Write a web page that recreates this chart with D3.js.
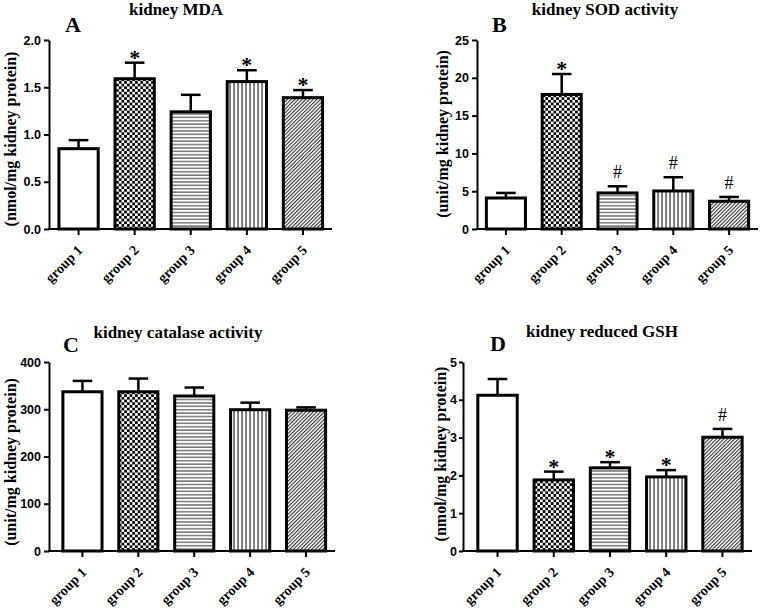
<!DOCTYPE html>
<html>
<head>
<meta charset="utf-8">
<script src="https://cdn.jsdelivr.net/npm/d3@7"></script>
<style>
  html, body { margin: 0; padding: 0; background: #fff; }
  svg { display: block; }
</style>
</head>
<body>
<svg id="chart" width="762" height="611"></svg>
<script>
// ---------------- data ----------------
const groups = ["group 1", "group 2", "group 3", "group 4", "group 5"];

const mdaMean  = [0.85, 1.59, 1.24, 1.56, 1.39];
const mdaErr   = [0.09, 0.17, 0.18, 0.12, 0.08];
const mdaMarks = ["", "*", "", "*", "*"];
const mdaTicks = [0, 0.5, 1.0, 1.5, 2.0];

const sodMean  = [4.1, 17.8, 4.77, 5.03, 3.67];
const sodErr   = [0.67, 2.7, 0.88, 1.82, 0.57];
const sodMarks = ["", "*", "#", "#", "#"];
const sodTicks = [0, 5, 10, 15, 20, 25];

const catMean  = [337, 337, 328, 299, 298];
const catErr   = [23, 28, 18, 15, 6];
const catMarks = ["", "", "", "", ""];
const catTicks = [0, 100, 200, 300, 400];

const gshMean  = [4.12, 1.88, 2.20, 1.96, 3.01];
const gshErr   = [0.43, 0.22, 0.15, 0.18, 0.22];
const gshMarks = ["", "*", "*", "*", "#"];
const gshTicks = [0, 1, 2, 3, 4, 5];

// ---------------- drawing ----------------
const svg = d3.select("#chart");
const defs = svg.append("defs");

// patterns
const pChk = defs.append("pattern").attr("id", "p-check").attr("patternUnits", "userSpaceOnUse")
  .attr("width", 5.4).attr("height", 5.4);
pChk.append("rect").attr("width", 5.4).attr("height", 5.4).attr("fill", "#fff");
pChk.append("rect").attr("width", 2.7).attr("height", 2.7).attr("fill", "#000");
pChk.append("rect").attr("x", 2.7).attr("y", 2.7).attr("width", 2.7).attr("height", 2.7).attr("fill", "#000");

const pH = defs.append("pattern").attr("id", "p-hor").attr("patternUnits", "userSpaceOnUse")
  .attr("width", 6).attr("height", 3.4);
pH.append("rect").attr("width", 6).attr("height", 3.4).attr("fill", "#fff");
pH.append("rect").attr("y", 1.2).attr("width", 6).attr("height", 1.1).attr("fill", "#444");

const pV = defs.append("pattern").attr("id", "p-ver").attr("patternUnits", "userSpaceOnUse")
  .attr("width", 4).attr("height", 6);
pV.append("rect").attr("width", 4).attr("height", 6).attr("fill", "#fff");
pV.append("rect").attr("x", 1.3).attr("width", 1.5).attr("height", 6).attr("fill", "#555");

const pD = defs.append("pattern").attr("id", "p-diag").attr("patternUnits", "userSpaceOnUse")
  .attr("width", 2.6).attr("height", 2.6).attr("patternTransform", "rotate(45)");
pD.append("rect").attr("width", 2.6).attr("height", 2.6).attr("fill", "#fff");
pD.append("rect").attr("x", 0).attr("width", 1.1).attr("height", 2.6).attr("fill", "#333");

const fills = ["#fff", "url(#p-check)", "url(#p-hor)", "url(#p-ver)", "url(#p-diag)"];

const serif = "'Liberation Serif', 'Times New Roman', serif";
const sans = "'Liberation Sans', Arial, sans-serif";

function panel(o) {
  const g = svg.append("g");
  const y = d3.scaleLinear().domain([0, o.max]).range([o.yBot, o.yTop]);
  const x = d3.scaleBand().domain(groups).range([o.bx0, o.bx1]).paddingInner(0.3).paddingOuter(0.15);

  // title & letter
  g.append("text").attr("x", o.titleX).attr("y", o.titleY).attr("text-anchor", "middle")
    .attr("font-family", serif).attr("font-weight", "bold").attr("font-size", 17).text(o.title);
  g.append("text").attr("x", o.letterX).attr("y", o.letterY)
    .attr("font-family", serif).attr("font-weight", "bold").attr("font-size", 22).text(o.letter);

  // y label
  g.append("text")
    .attr("transform", `translate(${o.ylabX},${o.ylabY}) rotate(-90)`)
    .attr("text-anchor", "middle").attr("dominant-baseline", "central")
    .attr("font-family", serif).attr("font-weight", "bold").attr("font-size", 16)
    .text(o.ylabel);

  // error bars
  const capW = x.bandwidth() * 0.5;
  const eb = g.append("g");
  eb.selectAll("line.v").data(groups).join("line")
    .attr("x1", d => x(d) + x.bandwidth() / 2).attr("x2", d => x(d) + x.bandwidth() / 2)
    .attr("y1", (d, i) => y(o.mean[i])).attr("y2", (d, i) => y(o.mean[i] + o.err[i]))
    .attr("stroke", "#000").attr("stroke-width", 2.5);
  eb.selectAll("line.c").data(groups).join("line").attr("class", "c")
    .attr("x1", d => x(d) + x.bandwidth() / 2 - capW / 2).attr("x2", d => x(d) + x.bandwidth() / 2 + capW / 2)
    .attr("y1", (d, i) => y(o.mean[i] + o.err[i])).attr("y2", (d, i) => y(o.mean[i] + o.err[i]))
    .attr("stroke", "#000").attr("stroke-width", 2.5);

  // bars
  g.append("g").selectAll("rect").data(groups).join("rect")
    .attr("x", d => x(d)).attr("width", x.bandwidth())
    .attr("y", (d, i) => y(o.mean[i])).attr("height", (d, i) => y(0) - y(o.mean[i]))
    .attr("fill", (d, i) => fills[i]).attr("stroke", "#000").attr("stroke-width", 3);

  // significance marks
  g.append("g").selectAll("text").data(groups).join("text")
    .attr("x", d => x(d) + x.bandwidth() / 2)
    .attr("y", (d, i) => y(o.mean[i] + o.err[i]) + (o.marks[i] === "*" ? 2 : -8))
    .attr("text-anchor", "middle")
    .attr("font-family", serif)
    .attr("font-weight", (d, i) => o.marks[i] === "*" ? "bold" : "normal")
    .attr("font-size", (d, i) => o.marks[i] === "*" ? 22 : 18)
    .text((d, i) => o.marks[i]);

  // y axis
  const ya = g.append("g").attr("transform", `translate(${o.x0},0)`)
    .call(d3.axisLeft(y).tickValues(o.ticks).tickFormat(o.fmt).tickSize(o.tick).tickSizeOuter(0).tickPadding(o.pad));
  ya.select(".domain").attr("stroke-width", 2);
  ya.selectAll(".tick line").attr("stroke-width", 2);
  ya.selectAll(".tick text").attr("font-family", sans).attr("font-weight", "bold").attr("font-size", 12.5);

  // x axis
  const xa = g.append("g").attr("transform", `translate(0,${o.yBot})`)
    .call(d3.axisBottom(x).tickSize(6).tickSizeOuter(0).tickFormat(""));
  xa.select(".domain").remove();
  xa.selectAll(".tick line").attr("stroke-width", 2);
  g.append("line").attr("x1", o.x0 - 1).attr("x2", o.x1).attr("y1", o.yBot).attr("y2", o.yBot)
    .attr("stroke", "#000").attr("stroke-width", 2);

  g.append("g").selectAll("text").data(groups).join("text")
    .attr("transform", d => `translate(${x(d) + x.bandwidth() / 2 + 5},${o.yBot + 22}) rotate(-45)`)
    .attr("text-anchor", "end")
    .attr("font-family", serif).attr("font-weight", "bold").attr("font-size", 14)
    .text(d => d);
}

panel({ title: "kidney MDA", letter: "A", titleX: 176, titleY: 15, letterX: 65, letterY: 32,
  ylabel: "(nmol/mg kidney protein)", ylabX: 10, ylabY: 139, tick: 5, pad: 3,
  x0: 49, x1: 332, bx0: 50.5, bx1: 331, yTop: 40, yBot: 229, max: 2,
  mean: mdaMean, err: mdaErr, marks: mdaMarks, ticks: mdaTicks, fmt: d3.format(".1f") });

panel({ title: "kidney SOD activity", letter: "B", titleX: 605, titleY: 15, letterX: 492, letterY: 32,
  ylabel: "(unit/mg kidney protein)", ylabX: 442, ylabY: 134, tick: 5, pad: 3,
  x0: 477, x1: 758, bx0: 478, bx1: 757, yTop: 40, yBot: 229, max: 25,
  mean: sodMean, err: sodErr, marks: sodMarks, ticks: sodTicks, fmt: d3.format("d") });

panel({ title: "kidney catalase activity", letter: "C", titleX: 178, titleY: 338, letterX: 63, letterY: 352,
  ylabel: "(unit/mg kidney protein)", ylabX: 10, ylabY: 462, tick: 5, pad: 3,
  x0: 49, x1: 335, bx0: 54.5, bx1: 334, yTop: 362, yBot: 551, max: 400,
  mean: catMean, err: catErr, marks: catMarks, ticks: catTicks, fmt: d3.format("d") });

panel({ title: "kidney reduced GSH", letter: "D", titleX: 602, titleY: 337, letterX: 490, letterY: 351,
  ylabel: "(nmol/mg kidney protein)", ylabX: 440, ylabY: 454, tick: 4, pad: 2,
  x0: 463, x1: 752, bx0: 469.4, bx1: 750.6, yTop: 362, yBot: 551, max: 5,
  mean: gshMean, err: gshErr, marks: gshMarks, ticks: gshTicks, fmt: d3.format("d") });
</script>
</body>
</html>
